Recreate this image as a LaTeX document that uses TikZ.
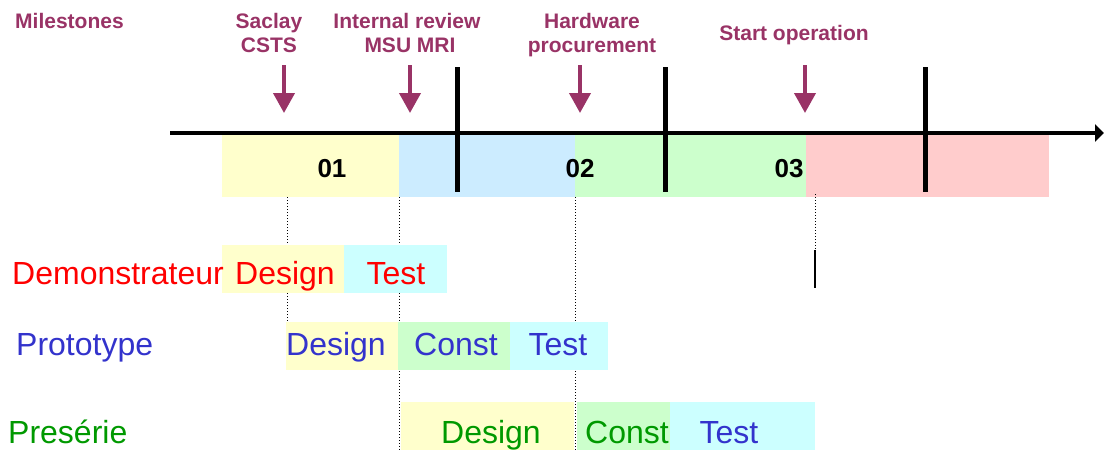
\documentclass[tikz,border=0pt]{standalone}
\usepackage{fontspec}
\setmainfont{Liberation Sans}
\usetikzlibrary{arrows.meta}
\definecolor{cyel}{HTML}{FFFFCC}
\definecolor{cblu}{HTML}{CCECFF}
\definecolor{cgrn}{HTML}{CCFFCC}
\definecolor{cpnk}{HTML}{FFCCCC}
\definecolor{ccyn}{HTML}{CCFFFF}
\definecolor{cpur}{HTML}{993366}
\definecolor{tred}{HTML}{FF0000}
\definecolor{tblu}{HTML}{3333CC}
\definecolor{tgrn}{HTML}{009900}
\tikzset{
  box/.style={anchor=north west,inner sep=0pt,outer sep=0pt,draw=none},
  mtext/.style={anchor=base,inner sep=0pt,text=cpur,font=\fontsize{21}{25}\bfseries\selectfont,align=center},
  numtext/.style={anchor=base,inner sep=0pt,font=\fontsize{26}{30}\bfseries\selectfont},
  rowtext/.style={anchor=base,inner sep=0pt,font=\fontsize{32}{38}\selectfont},
  rowlabel/.style={anchor=base west,inner sep=0pt,font=\fontsize{32}{38}\selectfont},
  marrow/.style={draw=cpur,line width=4pt,-{Triangle[length=20pt,width=21pt]}},
  divider/.style={draw=black,line width=5pt},
  guide/.style={draw=black,line width=1pt,dotted},
}
\begin{document}
\begin{tikzpicture}[x=1pt,y=-1pt]
\useasboundingbox (0,0) rectangle (1104,450);
% phase bars
\node[box,fill=cyel,minimum width=177pt,minimum height=64pt] (b1) at (222,133) {};
\node[box,fill=cblu,minimum width=176pt,minimum height=64pt] (b2) at (399,133) {};
\node[box,fill=cgrn,minimum width=231pt,minimum height=64pt] (b3) at (575,133) {};
\node[box,fill=cpnk,minimum width=243pt,minimum height=64pt] (b4) at (806,133) {};
\node[numtext] (n1) at (332,177) {01};
\node[numtext] (n2) at (580,177) {02};
\node[numtext] (n3) at (789,177) {03};
% axis
\coordinate (axs) at (170,133);
\coordinate (axe) at (1104,133);
\draw[line width=4pt,-{Triangle[length=9pt,width=17pt]}] (axs) -- (axe);
% dividers
\coordinate (d1t) at (457,67); \coordinate (d1b) at (457,192);
\coordinate (d2t) at (665,67); \coordinate (d2b) at (665,192);
\coordinate (d3t) at (925,67); \coordinate (d3b) at (925,192);
\draw[divider] (d1t) -- (d1b);
\draw[divider] (d2t) -- (d2b);
\draw[divider] (d3t) -- (d3b);
% milestones
\node[anchor=base west,inner sep=0pt,text=cpur,font=\fontsize{21}{25}\bfseries\selectfont] (ms) at (15,28) {Milestones};
\node[mtext] (m1) at (269,28) {Saclay};
\node[mtext] (m1b) at (269,52) {CSTS};
\node[mtext] (m2) at (407,28) {Internal review};
\node[mtext] (m2b) at (410,52) {MSU MRI};
\node[mtext] (m3) at (592,28) {Hardware};
\node[mtext] (m3b) at (592,52) {procurement};
\node[mtext] (m4) at (794,40) {Start operation};
\coordinate (a1t) at (284,65); \coordinate (a1h) at (284,113);
\coordinate (a2t) at (410,65); \coordinate (a2h) at (410,113);
\coordinate (a3t) at (580,65); \coordinate (a3h) at (580,113);
\coordinate (a4t) at (805,65); \coordinate (a4h) at (805,113);
\draw[marrow] (a1t) -- (a1h);
\draw[marrow] (a2t) -- (a2h);
\draw[marrow] (a3t) -- (a3h);
\draw[marrow] (a4t) -- (a4h);
% guides (behind the row boxes)
\coordinate (g1t) at (287,197); \coordinate (g1b) at (287,322);
\coordinate (g2t) at (399,197); \coordinate (g2b) at (399,450);
\coordinate (g3t) at (575,197); \coordinate (g3b) at (575,450);
\coordinate (g4t) at (815,194); \coordinate (g4m) at (815,250); \coordinate (g4b) at (815,288);
\draw[guide] (g1t) -- (g1b);
\draw[guide] (g2t) -- (g2b);
\draw[guide] (g3t) -- (g3b);
\draw[guide] (g4t) -- (g4b);
\draw[line width=1.3pt] (g4m) -- (g4b);
% Demonstrateur row
\node[box,fill=cyel,minimum width=122pt,minimum height=48pt] (dd) at (222,245) {};
\node[box,fill=ccyn,minimum width=103pt,minimum height=48pt] (dt) at (344,245) {};
% Prototype row
\node[box,fill=cyel,minimum width=112pt,minimum height=48pt] (pd) at (286,322) {};
\node[box,fill=cgrn,minimum width=112pt,minimum height=48pt] (pc) at (398,322) {};
\node[box,fill=ccyn,minimum width=98pt,minimum height=48pt] (pt) at (510,322) {};
% Preserie row
\node[box,fill=cyel,minimum width=173pt,minimum height=48pt] (sd) at (401,402) {};
\node[box,fill=cgrn,minimum width=93pt,minimum height=48pt] (sc) at (577,402) {};
\node[box,fill=ccyn,minimum width=145pt,minimum height=48pt] (st) at (670,402) {};
% row texts
\node[rowlabel,text=tred] (ld) at (12,284) {Demonstrateur};
\node[rowtext,text=tred] (tdd) at (285,284) {Design};
\node[rowtext,text=tred] (tdt) at (396,284) {Test};
\node[rowlabel,text=tblu] (lp) at (16,355) {Prototype};
\node[rowtext,text=tblu] (tpd) at (336,355) {Design};
\node[rowtext,text=tblu] (tpc) at (456,355) {Const};
\node[rowtext,text=tblu] (tpt) at (558,355) {Test};
\node[rowlabel,text=tgrn] (ls) at (8,443) {Presérie};
\node[rowtext,text=tgrn] (tsd) at (491,443) {Design};
\node[rowtext,text=tgrn] (tsc) at (627,443) {Const};
\node[rowtext,text=tblu] (tst) at (729,443) {Test};
\end{tikzpicture}
\end{document}
